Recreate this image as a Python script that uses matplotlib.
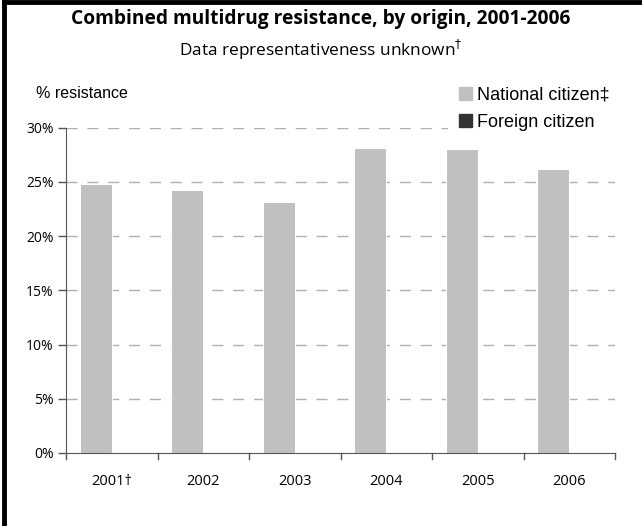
import numpy as np
import matplotlib.pyplot as plt
from matplotlib.lines import Line2D
from matplotlib.patches import Rectangle

years = ['2001\u2020', '2002', '2003', '2004', '2005', '2006']
national = [24.8, 24.3, 23.2, 28.1, 28.0, 26.2]
foreign = [0, 0, 0, 0, 0, 0]
yticks = [0, 5, 10, 15, 20, 25, 30]

fig = plt.figure(figsize=(6.42, 5.26), dpi=100)
ax = fig.add_axes([0.103, 0.139, 0.855, 0.618])

x = np.arange(len(years))
w = 0.35
ax.bar(x - w / 2, national, w, color='#c0c0c0', edgecolor='white', linewidth=0.8, zorder=2)
ax.bar(x + w / 2, foreign, w, color='#333333', zorder=2)

ax.set_xlim(-0.5, len(years) - 0.5)
ax.set_ylim(0, 30)
ax.set_yticks(yticks)
ax.set_yticklabels(['{}%'.format(t) for t in yticks], family='Open Sans', fontsize=10)
for t in yticks[1:]:
    ax.axhline(t, color='#b0b0b0', lw=1, ls=(0, (8, 7)), zorder=1)

ax.set_xticks(x)
ax.set_xticklabels(years, family='Open Sans', fontsize=10.5)
ax.tick_params(axis='x', length=0, pad=15)
for b in np.arange(-0.5, len(years)):
    ax.plot([b, b], [0, -0.019], transform=ax.get_xaxis_transform(), clip_on=False,
            color='#555555', lw=1)
ax.tick_params(axis='y', direction='out', length=6, color='#555555', width=1, pad=3)

for s in ['top', 'right']:
    ax.spines[s].set_visible(False)
ax.spines['left'].set_color('#555555')
ax.spines['bottom'].set_color('#555555')

fig.text(0.5, 0.964, 'Combined multidrug resistance, by origin, 2001-2006',
         ha='center', va='center', family='Open Sans', fontweight='bold', fontsize=13.8)
fig.text(0.5, 0.905, 'Data representativeness unknown$^\u2020$',
         ha='center', va='center', family='Open Sans', fontsize=12.4)
fig.text(0.056, 0.823, '% resistance', ha='left', va='center',
         family='Liberation Sans', fontsize=11.5)

handles = [Rectangle((0, 0), 1, 1, color='#c0c0c0'), Rectangle((0, 0), 1, 1, color='#333333')]
leg = fig.legend(handles, ['National citizen\u2021', 'Foreign citizen'],
                 loc='upper left', bbox_to_anchor=(0.684, 0.873), frameon=True,
                 prop={'family': 'Liberation Sans', 'size': 13},
                 handlelength=0.72, handleheight=0.72, handletextpad=0.28,
                 labelspacing=0.55, borderpad=0.6, fancybox=False)
leg.get_frame().set_facecolor('white')
leg.get_frame().set_edgecolor('none')
leg.get_frame().set_alpha(1)

fig.add_artist(Line2D([0.006, 1.0], [0.997, 0.997], color='black', lw=3.5))
fig.add_artist(Line2D([0.007, 0.007], [0.0, 0.997], color='black', lw=3.5))

fig.savefig('out.png', dpi=100)
